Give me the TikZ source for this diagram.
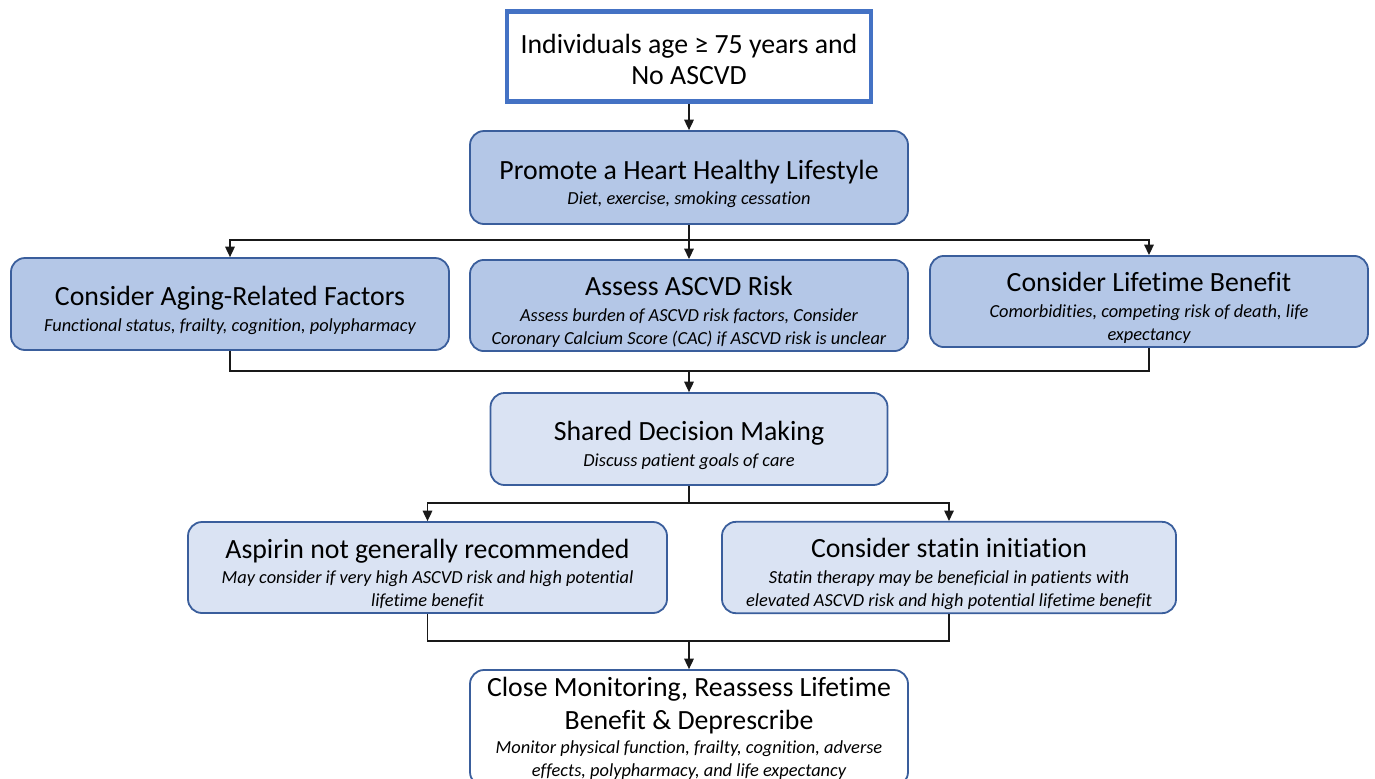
\documentclass[tikz,border=0pt]{standalone}
\usepackage{fontspec}
\setmainfont{Carlito}[Ligatures={NoCommon}]
\usetikzlibrary{arrows.meta}
\definecolor{topblue}{HTML}{4472C4}
\definecolor{edgeblue}{HTML}{3A5E9C}
\definecolor{darkfill}{HTML}{B4C7E7}
\definecolor{lightfill}{HTML}{DAE3F3}
\newcommand{\boxtitle}[1]{{\fontsize{13.9}{16}\selectfont #1}}
\newcommand{\firsttitle}[1]{\boxtitle{\rule{0pt}{16pt}#1}}
\newcommand{\boxnote}[1]{{\itshape #1}}
\tikzset{
  stepbox/.style={draw=edgeblue, line width=0.9pt, rounded corners=7pt,
    align=center, inner sep=2pt, font=\fontsize{9.2}{11.3}\selectfont},
  darkbox/.style={stepbox, fill=darkfill},
  lightbox/.style={stepbox, fill=lightfill},
  link/.style={line width=0.6pt, draw=black!90},
  arr/.style={link, -{Triangle[length=5.2pt,width=4.8pt]}}
}
\begin{document}
\begin{tikzpicture}[x=0.5pt, y=-0.5pt]
% picture frame
\clip (0,0) rectangle (1375,778);
\fill[white] (0,0) rectangle (1375,778);
%
% start box
\node[draw=topblue, line width=2.4pt, fill=white, align=center,
      font=\fontsize{9.2}{11.3}\selectfont,
      minimum width=182pt, minimum height=45pt] (start) at (689,56.5)
      {\boxtitle{\rule{0pt}{12.4pt}Individuals age ≥ 75 years and}\\[3pt]\boxtitle{No ASCVD}};
% lifestyle
\node[darkbox, minimum width=219pt, minimum height=46.5pt] (lifestyle) at (689,177.5)
      {\firsttitle{Promote a Heart Healthy Lifestyle}\\[1.5pt]\boxnote{Diet, exercise, smoking cessation}};
% three assessments
\node[darkbox, minimum width=219pt, minimum height=46pt] (aging) at (230,304)
      {\firsttitle{Consider Aging-Related Factors}\\[1.5pt]\boxnote{Functional status, frailty, cognition, polypharmacy}};
\node[darkbox, minimum width=219pt, minimum height=45.5pt] (assess) at (689,305.5)
      {\firsttitle{Assess ASCVD Risk}\\[1.5pt]\boxnote{Assess burden of ASCVD risk factors, Consider}\\
       \boxnote{Coronary Calcium Score (CAC) if ASCVD risk is unclear}};
\node[darkbox, minimum width=219pt, minimum height=45.5pt] (lifetime) at (1149,301.5)
      {\firsttitle{Consider Lifetime Benefit}\\[1.5pt]\boxnote{Comorbidities, competing risk of death, life}\\
       \boxnote{expectancy}};
% decision
\node[lightbox, minimum width=198.5pt, minimum height=46pt] (shared) at (689,439)
      {\firsttitle{Shared Decision Making}\\[1.5pt]\boxnote{Discuss patient goals of care}};
% two options
\node[lightbox, minimum width=239.5pt, minimum height=45.5pt] (aspirin) at (427.5,567.5)
      {\firsttitle{Aspirin not generally recommended}\\[1.5pt]\boxnote{May consider if very high ASCVD risk and high potential}\\
       \boxnote{lifetime benefit}};
\node[lightbox, minimum width=227pt, minimum height=45.5pt] (statin) at (949,567.5)
      {\firsttitle{Consider statin initiation}\\[1.5pt]\boxnote{Statin therapy may be beneficial in patients with}\\
       \boxnote{elevated ASCVD risk and high potential lifetime benefit}};
% follow up
\node[stepbox, fill=white, minimum width=219pt, minimum height=58pt] (monitor) at (689,728)
      {\boxtitle{Close Monitoring, Reassess Lifetime}\\[3.5pt]\boxtitle{Benefit \& Deprescribe}\\[0.8pt]
       \boxnote{Monitor physical function, frailty, cognition, adverse}\\
       \boxnote{effects, polypharmacy, and life expectancy}};
%
% junctions
\coordinate (split1) at (689,240);
\coordinate (merge1) at (689,371);
\coordinate (split2) at (689,503);
\coordinate (merge2) at (689,641);
% connections
\draw[arr] (start) -- (lifestyle);
\draw[link] (lifestyle) -- (split1);
\draw[arr] (split1) -| (aging.north);
\draw[arr] (split1) -- (assess.north);
\draw[arr] (split1) -| (lifetime.north);
\draw[link] (aging.south) |- (merge1) -| (lifetime.south);
\draw[arr] (merge1) -- (shared);
\draw[link] (shared) -- (split2);
\draw[arr] (split2) -| (aspirin.north);
\draw[arr] (split2) -| (statin.north);
\draw[link] (aspirin.south) |- (merge2) -| (statin.south);
\draw[arr] (merge2) -- (monitor);
\end{tikzpicture}
\end{document}
